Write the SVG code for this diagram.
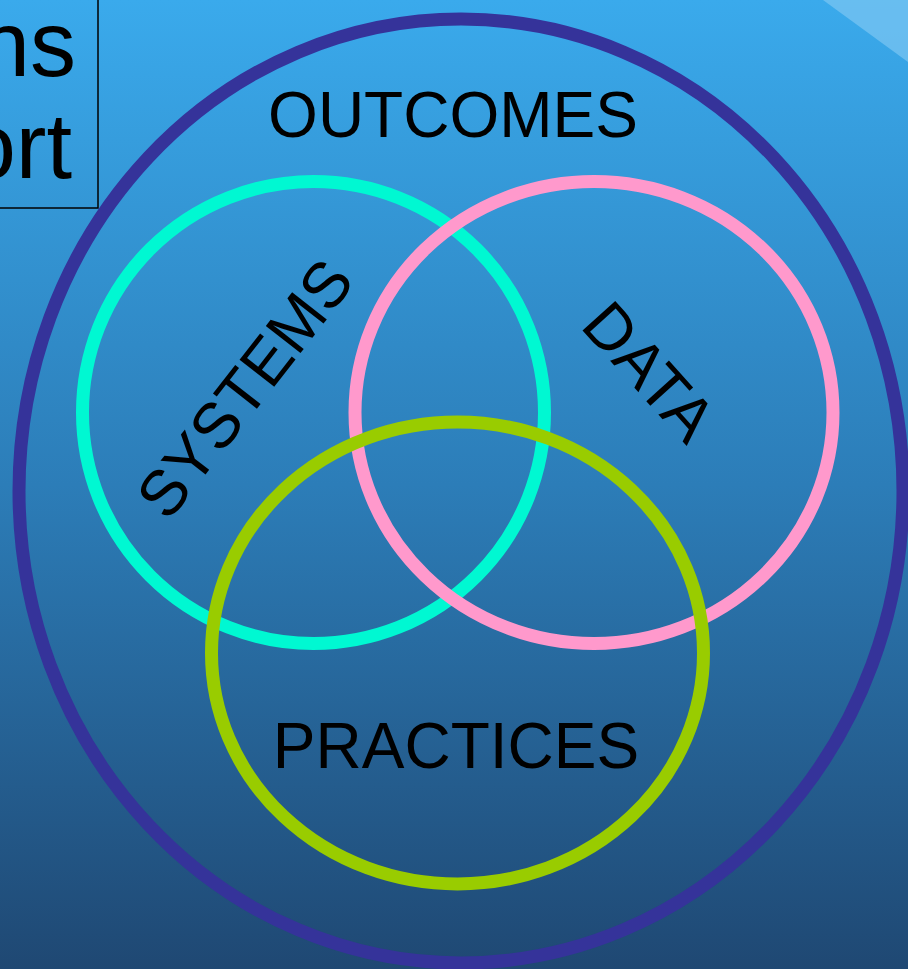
<svg xmlns="http://www.w3.org/2000/svg" width="908" height="969" viewBox="0 0 908 969">
<defs>
<linearGradient id="bg" x1="0" y1="0" x2="0" y2="1">
<stop offset="0" stop-color="#3AAAEC"/>
<stop offset="0.5" stop-color="#2C7DB8"/>
<stop offset="1" stop-color="#1F4873"/>
</linearGradient>
</defs>
<style>
.ring{fill:none;stroke-width:13}
.lbl{font-family:"Liberation Sans",Arial,sans-serif;font-size:64px;fill:#000;text-anchor:middle}
.box{font-family:"Liberation Sans",Arial,sans-serif;font-size:92px;fill:#000;text-anchor:end}
</style>
<rect width="908" height="969" fill="url(#bg)"/>
<polygon points="823,0 908,0 908,62" fill="#7CC6F2" opacity="0.7"/>
<g id="titlebox">
<rect x="-10" y="-10" width="108" height="218" fill="none" stroke="#000" stroke-width="1.5"/>
<text class="box" x="76" y="76">ns</text>
<text class="box" x="72" y="178">ort</text>
</g>
<g id="outcomes">
<ellipse class="ring" cx="461" cy="491" rx="442" ry="472" stroke="#35339A"/>
<text class="lbl" x="453" y="137">OUTCOMES</text>
</g>
<g id="systems">
<circle class="ring" cx="313.5" cy="412.5" r="231" stroke="#00F8D2"/>
<text class="lbl" transform="translate(244,388) rotate(-52)" x="0" y="23">SYSTEMS</text>
</g>
<g id="data">
<ellipse class="ring" cx="594" cy="412.5" rx="239" ry="231" stroke="#FF99CC"/>
<text class="lbl" transform="translate(650,371) rotate(48)" x="0" y="23">DATA</text>
</g>
<g id="practices">
<ellipse class="ring" cx="457.5" cy="653" rx="246" ry="231" stroke="#99CC00"/>
<text class="lbl" x="456" y="768">PRACTICES</text>
</g>
<g id="connectors"/>
</svg>
